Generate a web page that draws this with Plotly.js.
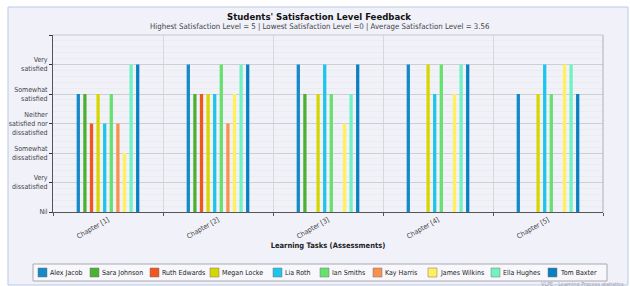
<!DOCTYPE html>
<html>
<head>
<meta charset="utf-8">
<script src="https://cdn.plot.ly/plotly-3.0.1.min.js"></script>
<style>html,body{margin:0;padding:0;background:#fff;}#chart{width:630px;height:286px;}</style>
</head>
<body>
<div id="chart"></div>
<script>
// ---- data ----
const chapters = ["Chapter [1]", "Chapter [2]", "Chapter [3]", "Chapter [4]", "Chapter [5]"];
const students = ["Alex Jacob", "Sara Johnson", "Ruth Edwards", "Megan Locke", "Lia Roth",
                  "Ian Smiths", "Kay Harris", "James Wilkins", "Ella Hughes", "Tom Baxter"];
// satisfaction level per student, per chapter (0 = Nil ... 5 = Very satisfied)
const s1  = [4, 5, 5, 5, 4];
const s2  = [4, 4, 4, 0, 0];
const s3  = [3, 4, 0, 0, 0];
const s4  = [4, 4, 4, 5, 4];
const s5  = [3, 4, 5, 4, 5];
const s6  = [4, 5, 4, 5, 4];
const s7  = [3, 3, 0, 0, 0];
const s8  = [2, 4, 3, 4, 5];
const s9  = [5, 5, 4, 5, 5];
const s10 = [5, 5, 5, 5, 4];
const series = [s1, s2, s3, s4, s5, s6, s7, s8, s9, s10];
const levelVals = [0, 1, 2, 3, 4, 5, 6];
const levelText = ["Nil", "Very<br>dissatisfied", "Somewhat<br>dissatisfied",
                   "Neither<br>satisfied nor<br>dissatisfied", "Somewhat<br>satisfied", "Very<br>satisfied", ""];

// ---- styles ----
const colors = ["#1689c9", "#4cb132", "#f0561e", "#d8d600", "#1ec5ea",
                "#66e06f", "#f8904e", "#fff05c", "#70f2c2", "#0a80c2"];
const FONT = "'DejaVu Sans Condensed', 'DejaVu Sans', sans-serif";

const traces = series.map((vals, i) => ({
  type: "bar", name: students[i], x: chapters, y: vals,
  marker: {color: colors[i], line: {width: 0}},
  showlegend: false, hoverinfo: "x+y+name"
}));

// plot geometry (pixels)
const W = 630, H = 286, ML = 53, MR = 27, MT = 35, MB = 74;
const PW = W - ML - MR, PH = H - MT - MB;
const px = v => (v - ML) / PW;
const py = v => (H - MB - v) / PH;

const shapes = [
  // outer panel
  {type: "rect", xref: "paper", yref: "paper", layer: "below",
   x0: px(8), x1: px(628), y0: py(285), y1: py(7),
   fillcolor: "#f1f1fa", line: {color: "#b9c9e2", width: 1}},
  // legend frame
  {type: "rect", xref: "paper", yref: "paper", layer: "below",
   x0: px(33), x1: px(607), y0: py(281), y1: py(264),
   fillcolor: "#f8f8fc", line: {color: "#a8a8b0", width: 1}}
];
const annotations = [
  {text: "<b>Students' Satisfaction Level Feedback</b>", xref: "paper", yref: "paper",
   x: px(319), y: py(16), xanchor: "center", yanchor: "middle", showarrow: false,
   font: {family: FONT, size: 9.5, color: "#111"}},
  {text: "Highest Satisfaction Level = 5 | Lowest Satisfaction Level =0 | Average Satisfaction Level = 3.56",
   xref: "paper", yref: "paper", x: px(320), y: py(27), xanchor: "center", yanchor: "middle",
   showarrow: false, font: {family: FONT, size: 7.8, color: "#444"}},
  {text: "VLPE - Learning Process statistics", xref: "paper", yref: "paper",
   x: px(626), y: py(284), xanchor: "right", yanchor: "middle", showarrow: false,
   font: {family: FONT, size: 5.5, color: "#a0a0b0"}}
];
// legend entries (layout positions)
const legendX = [38, 90, 150, 210, 273, 320, 373, 428, 491, 548];
students.forEach((name, i) => {
  const x0 = legendX[i];
  shapes.push({type: "rect", xref: "paper", yref: "paper",
    x0: px(x0), x1: px(x0 + 9), y0: py(277), y1: py(268),
    fillcolor: colors[i], line: {color: "#777", width: 0.5}});
  annotations.push({text: name, xref: "paper", yref: "paper",
    x: px(x0 + 10), y: py(272.5), xanchor: "left", yanchor: "middle", showarrow: false,
    font: {family: FONT, size: 7, color: "#222"}});
});

const layout = {
  width: W, height: H,
  margin: {l: ML, r: MR, t: MT, b: MB, pad: 0},
  paper_bgcolor: "#ffffff", plot_bgcolor: "#ffffff",
  barmode: "group", bargap: 0.4, bargroupgap: 0.5,
  showlegend: false,
  xaxis: {
    type: "category", tickson: "boundaries", ticks: "outside", ticklen: 3, tickcolor: "#555",
    showgrid: true, gridcolor: "#d8d8d8", gridwidth: 1,
    showline: true, linecolor: "#555", linewidth: 1, mirror: false,
    tickangle: -30, tickfont: {family: FONT, size: 7, color: "#444"},
    title: {text: "<b>Learning Tasks (Assessments)</b>", standoff: 2,
            font: {family: FONT, size: 7.5, color: "#222"}},
    automargin: false, fixedrange: true
  },
  yaxis: {
    range: [0, 6], tickvals: levelVals, ticktext: levelText,
    ticks: "outside", ticklen: 3, tickcolor: "#333",
    showgrid: true, gridcolor: "#cfcfcf", gridwidth: 1,
    minor: {dtick: 0.2, showgrid: true, gridcolor: "#ececec", ticks: ""},
    showline: true, linecolor: "#555", linewidth: 1,
    zeroline: false,
    tickfont: {family: FONT, size: 7, color: "#444"},
    automargin: false, fixedrange: true
  },
  shapes: shapes,
  annotations: annotations
};

// right and top border of plot area
layout.shapes.push({type: "line", xref: "paper", yref: "paper", x0: 1, x1: 1, y0: 0, y1: 1,
  line: {color: "#b0b0b0", width: 1}});
layout.shapes.push({type: "line", xref: "paper", yref: "paper", x0: 0, x1: 1, y0: 1, y1: 1,
  line: {color: "#c8c8c8", width: 1}});

Plotly.newPlot("chart", traces, layout, {displayModeBar: false, staticPlot: true});
</script>
</body>
</html>
